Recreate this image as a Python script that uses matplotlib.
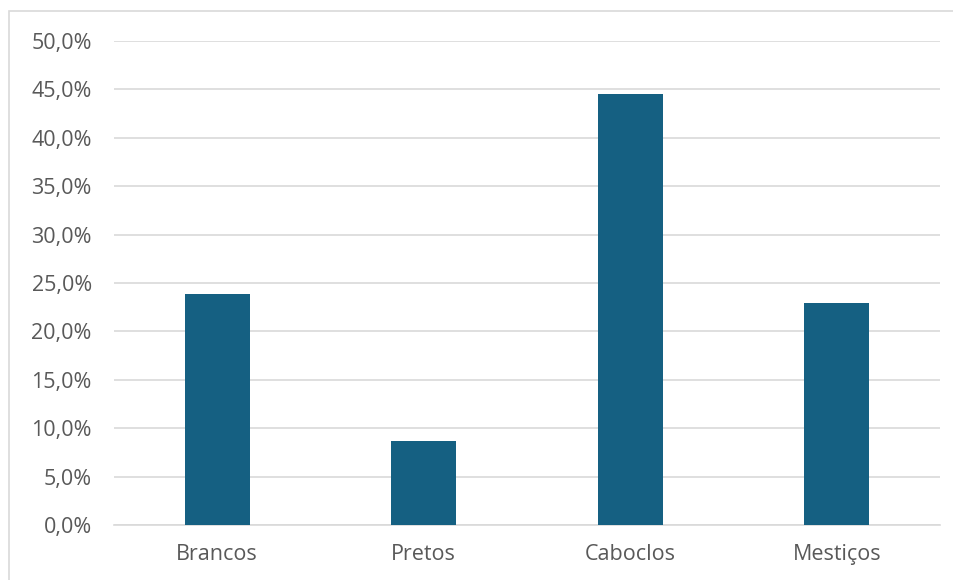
import matplotlib.pyplot as plt
from matplotlib.patches import Rectangle
from matplotlib.ticker import FuncFormatter

categorias = ['Brancos', 'Pretos', 'Caboclos', 'Mestiços']
percentuais = [23.9, 8.7, 44.5, 22.9]
y_ticks = [0, 5, 10, 15, 20, 25, 30, 35, 40, 45, 50]

plt.rcParams['font.family'] = ['Open Sans', 'DejaVu Sans']

fig = plt.figure(figsize=(9.54, 5.8), dpi=100)
ax = fig.add_axes([114 / 954, 55 / 580, 826 / 954, 484 / 580])

# moldura do gráfico (cortada à direita e em baixo)
fig.patches.append(Rectangle((9 / 954, -0.1), 1.2, (580 - 11) / 580 + 0.1,
                             transform=fig.transFigure, fill=False,
                             edgecolor='#d9d9d9', linewidth=1.2))

x = range(len(categorias))
ax.bar(x, percentuais, width=0.315, color='#156082', zorder=3)

ax.set_xlim(-0.5, len(categorias) - 0.5)
ax.set_ylim(0, 50)
ax.set_yticks(y_ticks)
ax.yaxis.set_major_formatter(FuncFormatter(lambda v, p: f'{v:.1f}%'.replace('.', ',')))
ax.set_xticks(list(x))
ax.set_xticklabels(categorias)

ax.grid(axis='y', color='#d9d9d9', linewidth=1.2, zorder=0)
for s in ['top', 'right', 'left']:
    ax.spines[s].set_visible(False)
ax.spines['bottom'].set_color('#d9d9d9')
ax.spines['bottom'].set_linewidth(1.2)

ax.tick_params(axis='y', length=0, pad=16, labelsize=15.5, labelcolor='#595959')
ax.tick_params(axis='x', length=0, pad=14, labelsize=15.5, labelcolor='#595959')

fig.savefig('out.png', dpi=100)
